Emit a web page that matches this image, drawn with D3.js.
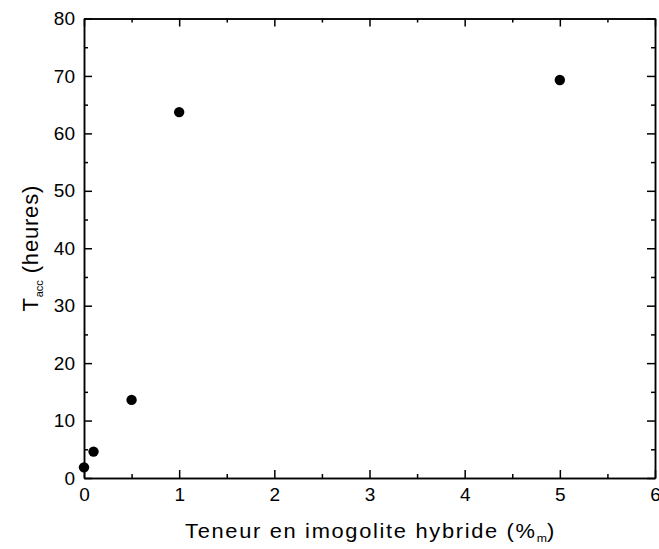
<!DOCTYPE html>
<html lang="fr">
<head>
<meta charset="UTF-8"/>
<title>Tacc vs teneur en imogolite</title>
<script src="https://d3js.org/d3.v7.min.js"></script>
<style>
    body { margin: 0; background: #fff; }
    text { font-family: "Liberation Sans", Arial, sans-serif; fill: #000; }
</style>
</head>
<body>
<div id="chart"></div>
<script>
    // Data
    var teneur = [0, 0.1, 0.5, 1, 5];
    var tacc = [1.85, 4.6, 13.6, 63.7, 69.3];
    var xTicks = [0, 1, 2, 3, 4, 5, 6];
    var yTicks = [0, 10, 20, 30, 40, 50, 60, 70, 80];

    var width = 659, height = 549;
    var plotLeft = 84, plotRight = 655, plotTop = 18.5, plotBottom = 478;

    var svg = d3.select("#chart").append("svg")
        .attr("width", width)
        .attr("height", height);

    var x = d3.scaleLinear().domain([0, 6]).range([plotLeft, plotRight]);
    var y = d3.scaleLinear().domain([0, 80]).range([plotBottom, plotTop]);

    var xMinor = d3.range(0.5, 6, 1);
    var yMinor = d3.range(5, 80, 10);

    // axes with inward ticks (bottom / left carry labels, top / right mirror)
    function styleAxis(g) {
        g.attr("font-size", 19).attr("font-family", "Liberation Sans, Arial, sans-serif");
        g.select(".domain").attr("stroke", "#000").attr("stroke-width", 1.5);
        g.selectAll(".tick line").attr("stroke", "#000").attr("stroke-width", 1.5);
        g.selectAll(".tick text").attr("fill", "#000");
    }

    svg.append("g")
        .attr("transform", "translate(0," + plotBottom + ")")
        .call(d3.axisBottom(x).tickValues(xTicks).tickSizeInner(-8).tickSizeOuter(0).tickPadding(10).tickFormat(d3.format("d")))
        .call(styleAxis);
    svg.append("g")
        .attr("transform", "translate(0," + plotBottom + ")")
        .call(d3.axisBottom(x).tickValues(xMinor).tickSizeInner(-4).tickSizeOuter(0).tickFormat(""))
        .call(styleAxis);

    svg.append("g")
        .attr("transform", "translate(" + plotLeft + ",0)")
        .call(d3.axisLeft(y).tickValues(yTicks).tickSizeInner(-8).tickSizeOuter(0).tickPadding(9).tickFormat(d3.format("d")))
        .call(styleAxis);
    svg.append("g")
        .attr("transform", "translate(" + plotLeft + ",0)")
        .call(d3.axisLeft(y).tickValues(yMinor).tickSizeInner(-4).tickSizeOuter(0).tickFormat(""))
        .call(styleAxis);

    svg.append("g")
        .attr("transform", "translate(0," + plotTop + ")")
        .call(d3.axisTop(x).tickValues(xTicks).tickSizeInner(-8).tickSizeOuter(0).tickFormat(""))
        .call(styleAxis);
    svg.append("g")
        .attr("transform", "translate(0," + plotTop + ")")
        .call(d3.axisTop(x).tickValues(xMinor).tickSizeInner(-4).tickSizeOuter(0).tickFormat(""))
        .call(styleAxis);

    svg.append("g")
        .attr("transform", "translate(" + plotRight + ",0)")
        .call(d3.axisRight(y).tickValues(yTicks).tickSizeInner(-8).tickSizeOuter(0).tickFormat(""))
        .call(styleAxis);
    svg.append("g")
        .attr("transform", "translate(" + plotRight + ",0)")
        .call(d3.axisRight(y).tickValues(yMinor).tickSizeInner(-4).tickSizeOuter(0).tickFormat(""))
        .call(styleAxis);

    // points
    svg.selectAll("circle")
        .data(teneur)
        .enter()
        .append("circle")
        .attr("cx", function(d) { return x(d); })
        .attr("cy", function(d, i) { return y(tacc[i]); })
        .attr("r", 5.2)
        .attr("fill", "#000");

    // x axis title (the original lettering is set wide)
    var xCenter = (plotLeft + plotRight) / 2 + 1;
    var xt = svg.append("text")
        .attr("x", 0)
        .attr("y", 0)
        .attr("text-anchor", "middle")
        .attr("font-size", "19.5px")
        .attr("letter-spacing", "1.5px");
    xt.append("tspan").text("Teneur en imogolite hybride (%");
    xt.append("tspan").attr("font-size", "11px").attr("letter-spacing", "0px").attr("dy", 4).text("m");
    xt.append("tspan").attr("dy", -4).text(")");
    var xw = xt.node().getBBox().width;
    xt.attr("transform", "translate(" + xCenter + ",538)scale(" + (371 / xw) + ",1)");

    // y axis title
    var yt = svg.append("text")
        .attr("transform", "translate(38," + ((plotTop + plotBottom) / 2) + ")rotate(-90)")
        .attr("text-anchor", "middle")
        .attr("font-size", "22px")
        .attr("letter-spacing", "0.8px");
    yt.append("tspan").text("T");
    yt.append("tspan").attr("font-size", "11px").attr("letter-spacing", "0px").attr("dy", 5).text("acc");
    yt.append("tspan").attr("dy", -5).text(" (heures)");
</script>
</body>
</html>
